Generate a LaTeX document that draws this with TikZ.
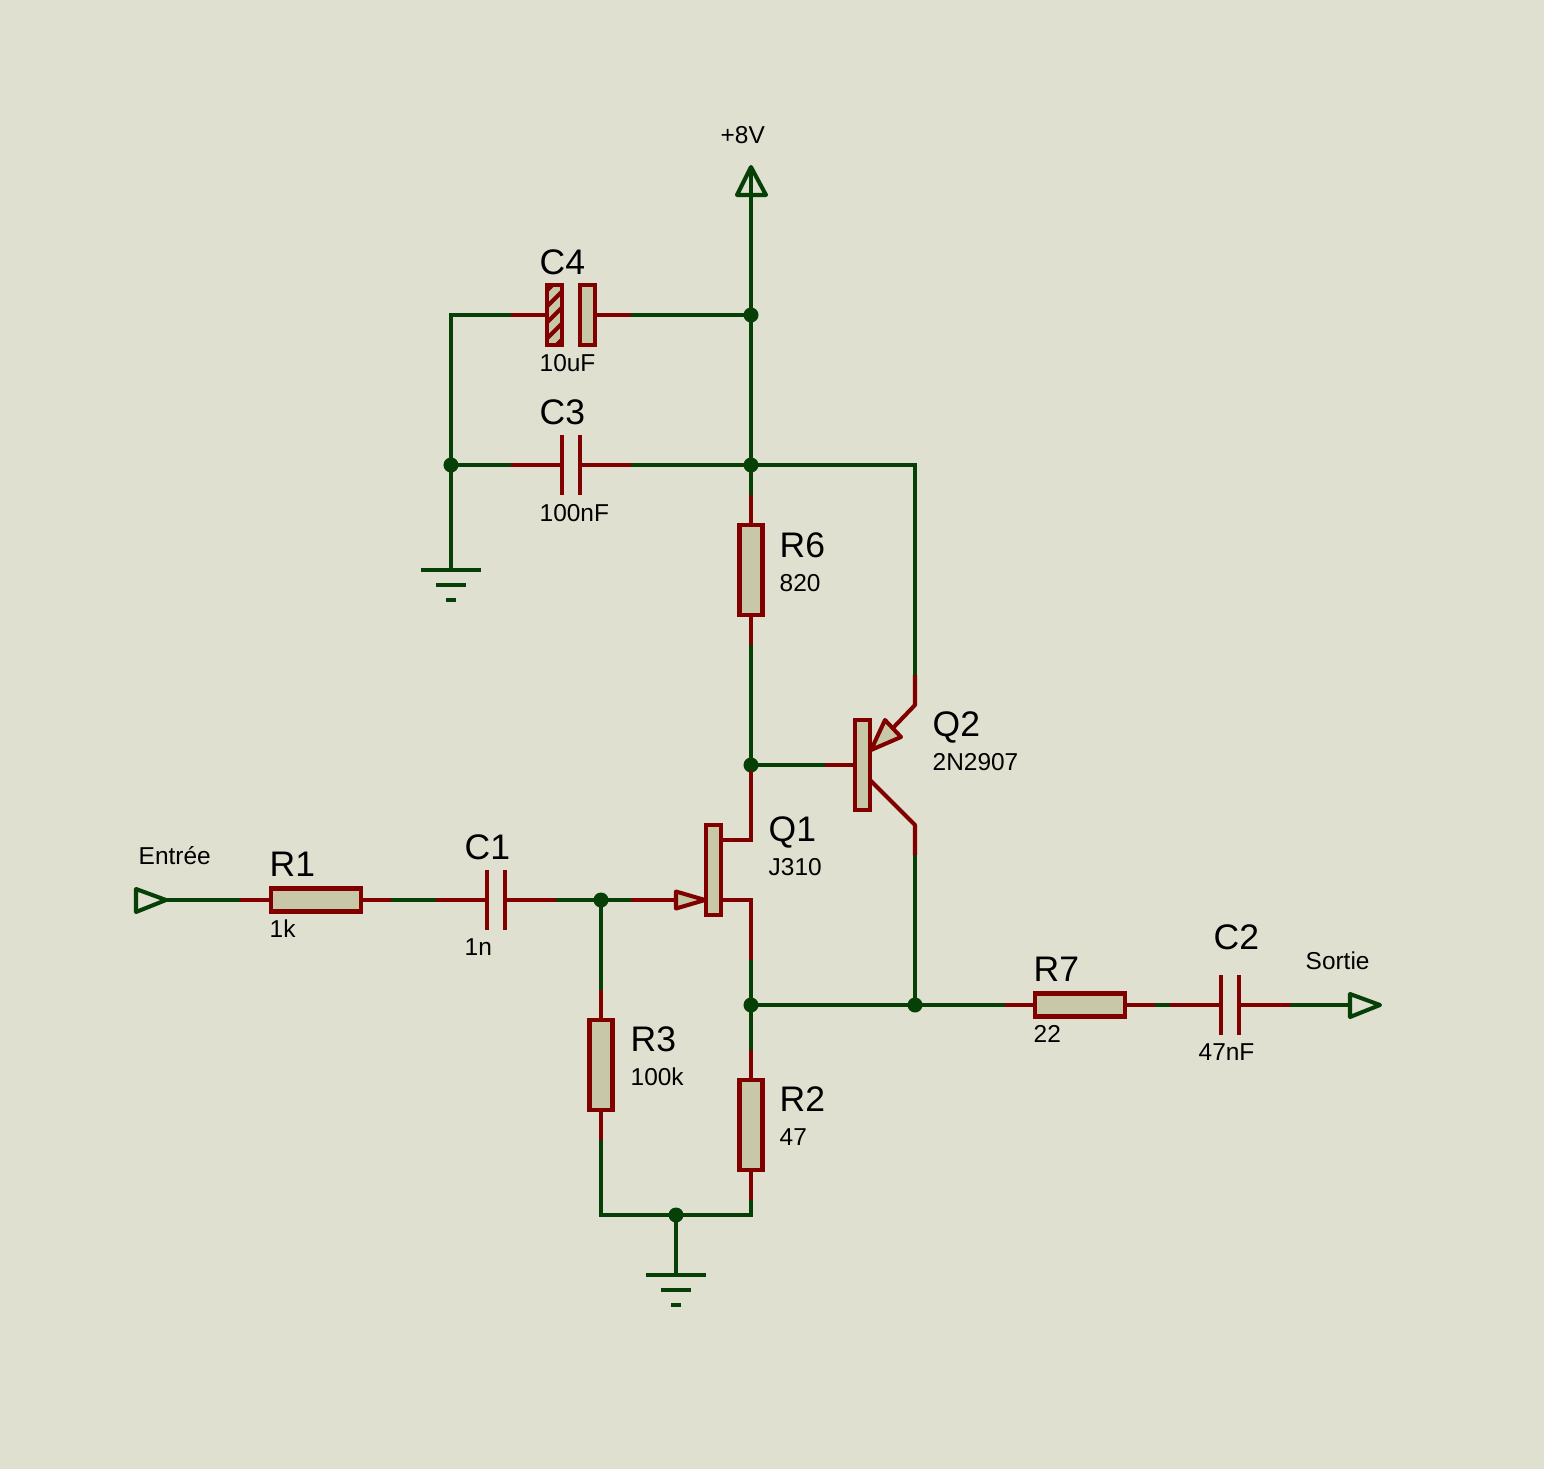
\documentclass[tikz,border=0pt]{standalone}
\usepackage{fontspec}
\setmainfont{Liberation Sans}
\definecolor{sheet}{HTML}{DFE0CF}
\definecolor{body}{HTML}{C8C8A8}
\definecolor{pinred}{HTML}{800000}
\definecolor{wiregreen}{HTML}{064006}

\begin{document}
\begin{tikzpicture}[
                x = 0.01cm, y = -0.01cm, % one unit is one pixel of the sheet
                wire/.style = {draw = wiregreen, line width = 1.15pt},
                lead/.style = {draw = pinred, line width = 1.15pt},
                earth/.style = {draw = wiregreen, line width = 1.3pt},
                pinbox/.style = {lead, fill = body, inner sep = 0pt, outer sep = 0pt},
                reshor/.style = {pinbox, minimum width = 0.9cm, minimum height = 0.23cm},
                resver/.style = {pinbox, minimum width = 0.23cm, minimum height = 0.9cm},
                chan/.style = {pinbox, minimum width = 0.15cm, minimum height = 0.9cm},
                plate/.style = {fill = pinred, inner sep = 0pt, outer sep = 0pt,
                minimum width = 0.04cm, minimum height = 0.6cm},
                dot/.style = {circle, fill = wiregreen, inner sep = 0pt, outer sep = -0.5pt,
                minimum size = 0.15cm},
                reflabel/.style = {anchor = base west, inner sep = 0pt,
                font = \fontsize{10.1}{12}\selectfont},
                vallabel/.style = {anchor = base west, inner sep = 0pt,
                font = \fontsize{6.95}{9}\selectfont}
            ]

            \fill[sheet] (0,0) rectangle (1544,1469);
            \useasboundingbox (0,0) rectangle (1544,1469);

            % junctions
            \node[dot] (j1) at (751,315) {}; \node[dot] (j2) at (751,465) {};
            \node[dot] (j3) at (451,465) {}; \node[dot] (j4) at (751,765) {};
            \node[dot] (j5) at (601,900) {}; \node[dot] (j6) at (751,1005) {};
            \node[dot] (j7) at (915,1005) {}; \node[dot] (j8) at (676,1215) {};

            % parts
            \node[resver] (R6) at (751,570) {}; \node[resver] (R3) at (601,1065) {};
            \node[resver] (R2) at (751,1125) {}; \node[reshor] (R1) at (316,900) {};
            \node[reshor] (R7) at (1080,1005) {};
            \node[chan] (Q1) at (713.5,870) {}; \node[chan] (Q2) at (862.5,765) {};
            \node[plate] (C1a) at (487,900) {}; \node[plate] (C1b) at (505,900) {};
            \node[plate] (C2a) at (1221,1005) {}; \node[plate] (C2b) at (1239,1005) {};
            \node[plate] (C3a) at (562,465) {}; \node[plate] (C3b) at (580,465) {};
            \node[chan, minimum height = 0.6cm] (C4b) at (587.5,315) {};
            \node[chan, minimum height = 0.6cm, path picture = {
                \foreach \h in {-48,-32,...,48}
                    \draw[pinred, line width = 1.15pt] (-15,\h+15) -- (15,\h-15);
            }] (C4a) at (554.5,315) {};

            % pin ends, where red turns to green
            \coordinate (c4l) at (511,315); \coordinate (c4r) at (631,315);
            \coordinate (c3l) at (511,465); \coordinate (c3r) at (631,465);
            \coordinate (r6t) at (751,495); \coordinate (r6b) at (751,645);
            \coordinate (r1l) at (240,900); \coordinate (r1r) at (391,900);
            \coordinate (c1l) at (436,900); \coordinate (c1r) at (556,900);
            \coordinate (q1g) at (631,900); \coordinate (q1s) at (751,960);
            \coordinate (r3t) at (601,990); \coordinate (r3b) at (601,1140);
            \coordinate (r2t) at (751,1050); \coordinate (r2b) at (751,1200);
            \coordinate (q2b) at (825,765); \coordinate (q2e) at (915,675);
            \coordinate (q2c) at (915,855);
            \coordinate (r7l) at (1005,1005); \coordinate (r7r) at (1155,1005);
            \coordinate (c2l) at (1170,1005); \coordinate (c2r) at (1290,1005);
            \coordinate (vcc) at (751,172); \coordinate (inp) at (166,900);
            \coordinate (outp) at (1350,1005);
            \coordinate (gnd1) at (451,570); \coordinate (gnd2) at (676,1275);

            % green wires
            \path[wire] (vcc) edge (j1); \path[wire] (j1) edge (j2); \path[wire] (j2) edge (r6t);
            \path[wire] (c4r) edge (j1); \path[wire] (c3r) edge (j2); \path[wire] (c3l) edge (j3);
            \path[wire] (j3) edge (gnd1); \path[wire] (r6b) edge (j4); \path[wire] (j4) edge (q2b);
            \path[wire] (inp) edge (r1l); \path[wire] (r1r) edge (c1l); \path[wire] (c1r) edge (j5);
            \path[wire] (j5) edge (q1g); \path[wire] (j5) edge (r3t); \path[wire] (q1s) edge (j6);
            \path[wire] (j6) edge (j7); \path[wire] (j6) edge (r2t); \path[wire] (j7) edge (r7l);
            \path[wire] (q2c) edge (j7); \path[wire] (r7r) edge (c2l); \path[wire] (c2r) edge (outp);
            \path[wire] (j8) edge (gnd2);
            \draw[wire] (j3) |- (c4l);
            \draw[wire] (j2) -| (q2e);
            \draw[wire] (r3b) |- (j8);
            \draw[wire] (r2b) |- (j8);

            % red leads
            \path[lead] (c4l) edge (C4a); \path[lead] (C4b) edge (c4r);
            \path[lead] (c3l) edge (C3a); \path[lead] (C3b) edge (c3r);
            \path[lead] (r6t) edge (R6); \path[lead] (R6) edge (r6b);
            \path[lead] (r1l) edge (R1); \path[lead] (R1) edge (r1r);
            \path[lead] (c1l) edge (C1a); \path[lead] (C1b) edge (c1r);
            \path[lead] (r3t) edge (R3); \path[lead] (R3) edge (r3b);
            \path[lead] (r2t) edge (R2); \path[lead] (R2) edge (r2b);
            \path[lead] (r7l) edge (R7); \path[lead] (R7) edge (r7r);
            \path[lead] (c2l) edge (C2a); \path[lead] (C2b) edge (c2r);
            \path[lead] (q1g) edge (Q1.west |- q1g); \path[lead] (q2b) edge (Q2);
            \draw[lead] (j4) |- (Q1.east |- 0,840);
            \draw[lead] (Q1.east |- q1g) -| (q1s);
            \draw[lead, line join = round] (q2e) -- (915,705) -- (892,729);
            \draw[lead, line join = round] (Q2.east |- 0,780) -- (915,825) -- (q2c);

            % arrows of the transistors
            \draw[pinbox, line join = round] (676,891.5) -- (705,900) -- (676,908.5) -- cycle;
            \draw[pinbox, line join = round] (871,750) -- (885,720) -- (901,737) -- cycle;

            % terminals
            \draw[wire, line join = round] (inp) -- (136,889) -- (136,912) -- cycle;
            \draw[wire, line join = round] (outp |- 0,994) -- (1380,1005) -- (outp |- 0,1017) -- cycle;
            \draw[wire, line join = round] (751,167) -- (766,195) -- (737,195) -- cycle;

            % earths
            \draw[earth] (421,570) -- (481,570); \draw[earth] (436,585) -- (466,585);
            \draw[earth] (446,600) -- (456,600);
            \draw[earth] (646,1275) -- (706,1275); \draw[earth] (661,1290) -- (691,1290);
            \draw[earth] (671,1305) -- (681,1305);

            % labels
            \node[vallabel] (l8v) at (720,143) {+8V};
            \node[reflabel] (lc4) at (539,274) {C4}; \node[vallabel] (vc4) at (539,371) {10uF};
            \node[reflabel] (lc3) at (539,424) {C3}; \node[vallabel] (vc3) at (539,521) {100nF};
            \node[reflabel] (lr6) at (779,557) {R6}; \node[vallabel] (vr6) at (779,591) {820};
            \node[reflabel] (lq2) at (932,736) {Q2}; \node[vallabel] (vq2) at (932,770) {2N2907};
            \node[reflabel] (lq1) at (768,841) {Q1}; \node[vallabel] (vq1) at (768,875) {J310};
            \node[vallabel] (lin) at (138,864) {Entrée};
            \node[reflabel] (lr1) at (269,876) {R1}; \node[vallabel] (vr1) at (269,937) {1k};
            \node[reflabel] (lc1) at (464,859) {C1}; \node[vallabel] (vc1) at (464,955) {1n};
            \node[reflabel] (lr3) at (630,1051) {R3}; \node[vallabel] (vr3) at (630,1085) {100k};
            \node[reflabel] (lr2) at (779,1111) {R2}; \node[vallabel] (vr2) at (779,1145) {47};
            \node[reflabel] (lr7) at (1033,981) {R7}; \node[vallabel] (vr7) at (1033,1042) {22};
            \node[reflabel] (lc2) at (1213,949) {C2}; \node[vallabel] (vc2) at (1198,1060) {47nF};
            \node[vallabel] (lout) at (1305,969) {Sortie};

        \end{tikzpicture}
\end{document}
